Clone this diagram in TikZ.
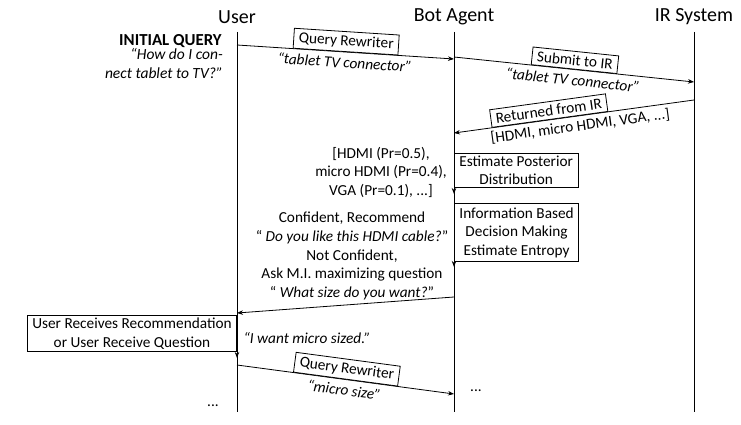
\documentclass[tikz,border=0pt]{standalone}
\usepackage{fontspec}
\setmainfont{Carlito}
\usetikzlibrary{arrows.meta}

\begin{document}
\begin{tikzpicture}[x=1pt, y=-1pt,
    every node/.style={font=\fontsize{15.3}{18.5}\selectfont},
    title/.style={font=\fontsize{20}{22}\selectfont},
    lifeline/.style={line width=0.8pt},
    msg/.style={-{Stealth[length=6pt, width=4.5pt]}, line width=0.8pt},
    tag/.style={draw, fill=white, line width=0.8pt, inner xsep=5pt, inner ysep=3.5pt, sloped, anchor=south},
    quote/.style={sloped, anchor=north, inner sep=4.5pt, font=\fontsize{15.3}{18.5}\selectfont\itshape},
    process/.style={draw, fill=white, line width=0.8pt, align=center, inner xsep=5pt, inner ysep=2.5pt}]
      \useasboundingbox (0,0) rectangle (741,425);

      % Lifelines
      \node[title] (user) at (237,17) {User};
      \node[title] (bot) at (454,17) {Bot Agent};
      \node[title] (ir) at (694,17) {IR System};
      \coordinate (user top) at (237,32);
      \coordinate (bot top) at (454,32);
      \coordinate (ir top) at (694,32);
      \coordinate (user end) at (237,412);
      \coordinate (bot end) at (454,412);
      \coordinate (ir end) at (694,412);
      \draw[lifeline] (user top) -- (user end);
      \draw[lifeline] (bot top) -- (bot end);
      \draw[lifeline] (ir top) -- (ir end);

      % Message points
      \coordinate (u1) at (237,45);
      \coordinate (b1) at (454,59);
      \coordinate (b2) at (454,57);
      \coordinate (i2) at (694,82);
      \coordinate (i3) at (694,100);
      \coordinate (b3) at (454,133);
      \coordinate (b4) at (454,297);
      \coordinate (u4) at (237,313);
      \coordinate (u5) at (237,365);
      \coordinate (b5) at (454,394);

      % Initial query
      \node[anchor=east, inner sep=0pt, font=\fontsize{16.8}{18.5}\selectfont] (init) at (222,41) {\textbf{INITIAL QUERY}};
      \node[anchor=east, align=right, inner sep=0pt, font=\fontsize{15.5}{19}\selectfont\itshape] (initq) at (223,63) {“How do I con-\\nect tablet to TV?”};

      % Messages
      \draw[msg] (u1) -- node[tag] {Query Rewriter} node[quote] {“tablet TV connector”} (b1);
      \draw[msg] (b2) -- node[tag] {Submit to IR} node[quote] {“tablet TV connector”} (i2);
      \draw[msg] (i3) -- node[tag, pos=0.6] {Returned from IR} node[quote, font=\fontsize{15.3}{18.5}\selectfont, pos=0.48, inner sep=3.5pt] {[HDMI, micro HDMI, VGA, ...]} (b3);

      % Bot agent processing
      \node[process, anchor=north west] (post) at (454,153) {Estimate Posterior\\Distribution};
      \draw[msg] (post.south west) -- ++(0,6) coordinate (post tip);
      \node[align=center] (dist) at (381,172) {[HDMI (Pr=0.5),\\micro HDMI (Pr=0.4),\\VGA (Pr=0.1), ...]};
      \node[process, anchor=north west, inner ysep=4pt] (info) at (454,203) {Information Based\\Decision Making\\Estimate Entropy};
      \draw[msg] (info.south west) -- ++(0,5) coordinate (info tip);
      \node[align=center, font=\fontsize{15.3}{18.6}\selectfont] (decide) at (352,256) {Confident, Recommend\\“ \textit{Do you like this HDMI cable?}”\\Not Confident,\\Ask M.I. maximizing question\\“ \textit{What size do you want?}”};
      \draw[msg] (b4) -- (u4);

      % User side
      \node[process, anchor=north east] (recv) at (237,315) {User Receives Recommendation\\or User Receive Question};
      \draw[msg] (recv.south east) -- ++(0,6) coordinate (recv tip);
      \node[anchor=west, font=\fontsize{15.3}{18.5}\selectfont\itshape] (answer) at (240,338) {“I want micro sized.”};
      \draw[msg] (u5) -- node[tag] {Query Rewriter} node[quote] {“micro size”} (b5);

      % Continuation
      \node (bot more) at (476,391) {...};
      \node (user more) at (213,406) {...};
    \end{tikzpicture}
\end{document}
